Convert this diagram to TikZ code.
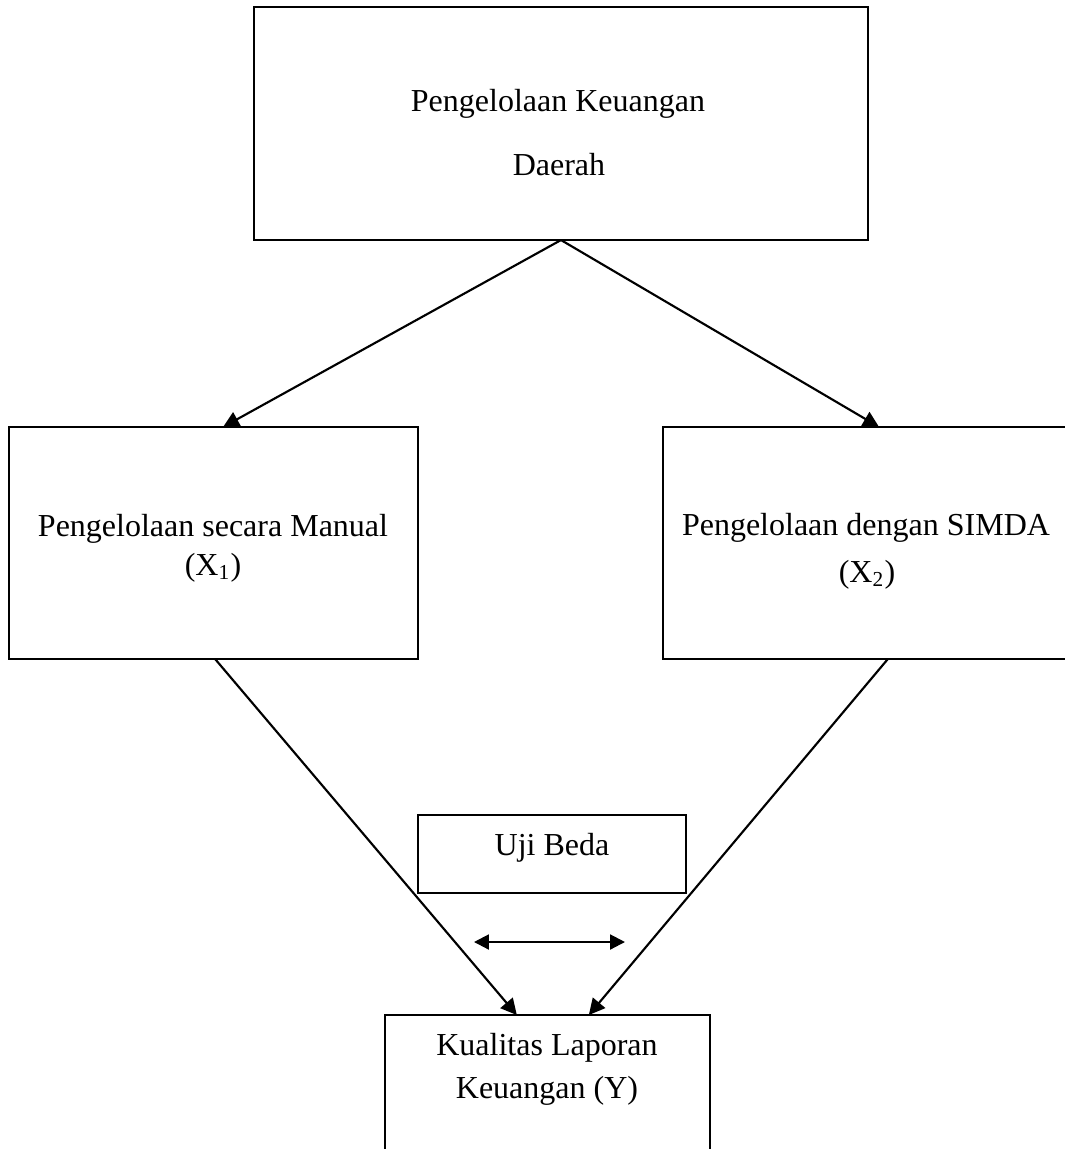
\documentclass[tikz,border=0pt]{standalone}
\usepackage{fontspec}
\setmainfont{Liberation Serif}
\usetikzlibrary{arrows.meta}

\begin{document}
\begin{tikzpicture}[x=0.375pt, y=-0.375pt,
      box/.style={draw, line width=0.8pt, inner sep=0pt, outer sep=0pt},
      txt/.style={anchor=base, inner sep=0pt, font=\fontsize{12}{14}\selectfont},
      arr/.style={-{Triangle[length=6pt, width=6pt]}, line width=0.8pt}]
    \useasboundingbox (0,0) rectangle (1065,1149);
    \clip (0,0) rectangle (1065,1149);
    % kotak
    \node[box, minimum width=230.25pt, minimum height=87.4pt] (keu) at (561,123.5) {};
    \node[box, minimum width=153.4pt, minimum height=87pt]    (man) at (213.5,543) {};
    \node[box, minimum width=152.3pt, minimum height=87pt]    (sim) at (866,543) {};
    \node[box, minimum width=100.5pt, minimum height=29.25pt] (uji) at (552,854) {};
    \node[box, minimum width=121.9pt, minimum height=90pt]    (lap) at (547.5,1135) {};
    % teks
    \node[txt] (keu1) at (558,111)  {Pengelolaan Keuangan};
    \node[txt] (keu2) at (559,175)  {Daerah};
    \node[txt] (man1) at (213,536)  {Pengelolaan secara Manual};
    \node[txt] (man2) at (213,575)  {(X\textsubscript{1})};
    \node[txt] (sim1) at (866,535)  {Pengelolaan dengan SIMDA};
    \node[txt] (sim2) at (867,582)  {(X\textsubscript{2})};
    \node[txt] (uji1) at (552,855)  {Uji Beda};
    \node[txt] (lap1) at (547,1055) {Kualitas Laporan};
    \node[txt] (lap2) at (547,1098) {Keuangan (Y)};
    % panah
    \coordinate (bedaL) at (474,942);
    \coordinate (bedaR) at (625,942);
    \draw[arr] (keu.south) -- ([xshift=3.6pt]man.north);
    \draw[arr] (keu.south) -- ([xshift=4.9pt]sim.north);
    \draw[arr] ([xshift=0.6pt]man.south) -- ([xshift=-11.5pt]lap.north);
    \draw[arr] ([xshift=8.2pt]sim.south) -- ([xshift=15.5pt]lap.north);
    \draw[arr, {Triangle[length=5.6pt, width=5.6pt]}-{Triangle[length=5.6pt, width=5.6pt]}] (bedaL) -- (bedaR);
  \end{tikzpicture}
\end{document}
